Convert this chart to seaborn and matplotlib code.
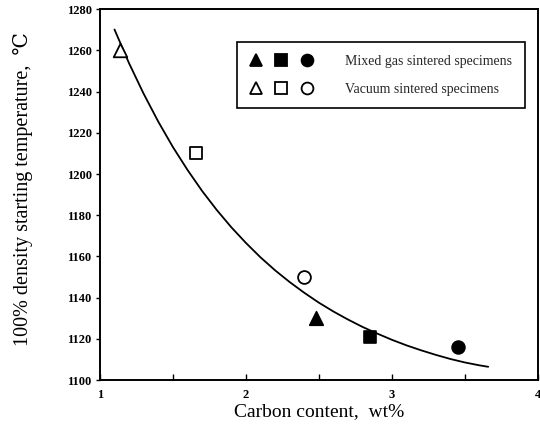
import matplotlib
matplotlib.use("Agg")
import matplotlib.pyplot as plt
import seaborn as sns
import pandas as pd
from matplotlib.legend_handler import HandlerTuple
from matplotlib.lines import Line2D

# Data
mixed_x = [2.48, 2.85, 3.45]
mixed_y = [1130, 1121, 1116]
vacuum_x = [1.14, 1.66, 2.40]
vacuum_y = [1260, 1210, 1150]
markers = ["^", "s", "o"]

# fitted trend curve
curve_x = [1.10, 1.20, 1.30, 1.40, 1.50, 1.60, 1.70, 1.80, 1.90, 2.00,
           2.10, 2.20, 2.30, 2.40, 2.50, 2.60, 2.70, 2.80, 2.90, 3.00,
           3.10, 3.20, 3.30, 3.40, 3.50, 3.60, 3.66]
curve_y = [1270.1, 1253.7, 1238.9, 1225.4, 1213.1, 1202.0, 1191.8, 1182.6,
           1174.2, 1166.6, 1159.6, 1153.3, 1147.6, 1142.4, 1137.6, 1133.3,
           1129.4, 1125.8, 1122.6, 1119.6, 1116.9, 1114.5, 1112.3, 1110.3,
           1108.6, 1107.2, 1106.5]

x_ticks = [1, 2, 3, 4]
y_ticks = list(range(1100, 1281, 20))

sns.set_theme(style="ticks")
plt.rcParams["font.family"] = ["Liberation Serif", "DejaVu Serif"]

fig = plt.figure(figsize=(5.4, 4.34), dpi=100)
ax = fig.add_axes([0.185, 0.124, 0.811, 0.855])

curve_df = pd.DataFrame({"x": curve_x, "y": curve_y})
sns.lineplot(data=curve_df, x="x", y="y", ax=ax, color="black", lw=1.3,
             sort=False, estimator=None)

sizes = {"^": 95, "s": 70, "o": 85}
for i, m in enumerate(markers):
    sns.scatterplot(x=[mixed_x[i]], y=[mixed_y[i]], ax=ax, marker=m,
                    s=sizes[m], color="black", edgecolor="black", linewidth=1.2, zorder=3)
    sns.scatterplot(x=[vacuum_x[i]], y=[vacuum_y[i]], ax=ax, marker=m,
                    s=sizes[m], facecolor="white", edgecolor="black", linewidth=1.3, zorder=3)

ax.set_xlim(1, 4)
ax.set_ylim(1100, 1280)
ax.set_xticks(x_ticks)
ax.set_xticks([1.5, 2.5, 3.5], minor=True)
ax.set_yticks(y_ticks)
ax.set_xticklabels([str(t) for t in x_ticks], fontsize=9, fontweight="bold")
ax.set_yticklabels([str(t) for t in y_ticks], fontsize=9, fontweight="bold")
ax.tick_params(axis="x", which="both", direction="in", length=4, width=1, pad=6, colors="black")
ax.tick_params(axis="y", direction="out", length=3, width=1, pad=3, colors="black")
for sp in ax.spines.values():
    sp.set_visible(True)
    sp.set_linewidth(1.4)
    sp.set_color("black")

ax.set_xlabel("Carbon content,  wt%", fontsize=14, labelpad=2, color="black")
ax.set_ylabel("100% density starting temperature,  \u2103", fontsize=14.5, color="black")
ax.yaxis.set_label_coords(-0.153, 0.515)

def mk(m, filled):
    return Line2D([], [], marker=m, linestyle="none", markersize=8.5,
                  markerfacecolor="black" if filled else "white",
                  markeredgecolor="black", markeredgewidth=1.3)

handles = [tuple(mk(m, True) for m in markers), tuple(mk(m, False) for m in markers)]
labels = ["Mixed gas sintered specimens", "Vacuum sintered specimens"]
leg = ax.legend(handles, labels, handler_map={tuple: HandlerTuple(ndivide=None, pad=0.9)},
                loc="upper right", bbox_to_anchor=(0.970, 0.911), fontsize=10,
                handlelength=4.6, handletextpad=2.3, borderpad=0.9, labelspacing=1.1,
                borderaxespad=0, frameon=True, fancybox=False, edgecolor="black",
                framealpha=1)
leg.get_frame().set_linewidth(1.2)

fig.savefig("out.png", dpi=100)
